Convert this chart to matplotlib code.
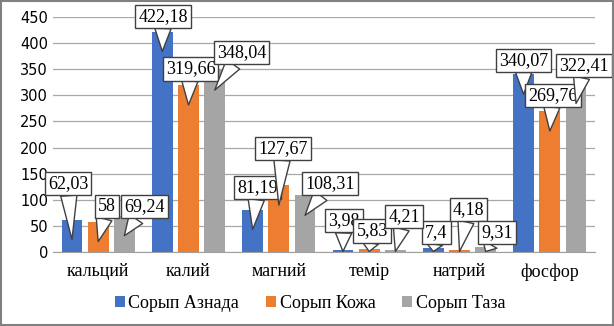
import numpy as np
import matplotlib.pyplot as plt

categories = ['кальций', 'калий', 'магний', 'темір', 'натрий', 'фосфор']
series_names = ['Сорып Азнада', 'Сорып Кожа', 'Сорып Таза']
azn = [62.03, 422.18, 81.19, 3.98, 7.4, 340.07]
kozh = [58, 319.66, 127.67, 5.83, 4.18, 269.76]
taza = [69.24, 348.04, 108.31, 4.21, 9.31, 322.41]
labels_azn = ['62,03', '422,18', '81,19', '3,98', '7,4', '340,07']
labels_kozh = ['58', '319,66', '127,67', '5,83', '4,18', '269,76']
labels_taza = ['69,24', '348,04', '108,31', '4,21', '9,31', '322,41']

colors = ['#4472C4', '#ED7D31', '#A5A5A5']

# callout box offsets from bar top (pixels, x right / y up)
off_azn = [(-4, 36), (1, 15), (5, 22), (1, 29), (3, 16), (0, 14)]
off_kozh = [(9, 15), (2, 16), (4, 37), (3, 18), (9, 40), (3, 16)]
off_taza = [(20, 9), (27, 18), (25, 12), (9, 33), (11, 15), (8, 18)]

fig = plt.figure(figsize=(6.14, 3.26), dpi=100)
ax = fig.add_axes([53/614, 74/326, 542/614, 235/326])

x = np.arange(len(categories))
w = 0.23
shift = 0.29
serif = 'Liberation Serif'

for k, (vals, labs, offs) in enumerate([(azn, labels_azn, off_azn),
                                        (kozh, labels_kozh, off_kozh),
                                        (taza, labels_taza, off_taza)]):
    xs = x + (k - 1) * shift
    ax.bar(xs, vals, w, color=colors[k], label=series_names[k], zorder=2)
    for xi, v, lab, (dx, dy) in zip(xs, vals, labs, offs):
        tip = max(v - 38, 1)
        ax.annotate(lab, xy=(xi, tip), xytext=(dx, dy + (v - tip) * 0.5222),
                    textcoords='offset pixels', ha='center', va='center',
                    fontsize=13, family=serif, zorder=5,
                    bbox=dict(boxstyle='square,pad=0.17', fc='white', ec='#404040', lw=1),
                    arrowprops=dict(arrowstyle='wedge,tail_width=0.9', fc='white',
                                    ec='#404040', lw=1, shrinkA=0, shrinkB=0))

ax.set_xlim(-0.5, 5.5)
ax.set_ylim(0, 450)
ax.set_yticks(np.arange(0, 451, 50))
ax.yaxis.grid(True, color='#A8A8A8', lw=0.9, zorder=0)
ax.set_xticks(x)
ax.set_xticklabels(categories, family=serif, fontsize=13)
ax.tick_params(axis='both', length=0, labelsize=10.5)
ax.tick_params(axis='x', pad=8, labelsize=13)
for s in ['top', 'right', 'left']:
    ax.spines[s].set_visible(False)
ax.spines['bottom'].set_color('#A0A0A0')

ax.legend(loc='center', bbox_to_anchor=(310/614, 23/326), bbox_transform=fig.transFigure,
          ncol=3, frameon=False, prop={'family': serif, 'size': 13},
          handlelength=0.55, handleheight=0.55, handletextpad=0.2, columnspacing=1.5)

fig.patches.append(plt.Rectangle((0.001, 0.002), 0.997, 0.995, transform=fig.transFigure,
                                 fill=False, ec='#808080', lw=1.5))

fig.savefig('out.png', dpi=100)
